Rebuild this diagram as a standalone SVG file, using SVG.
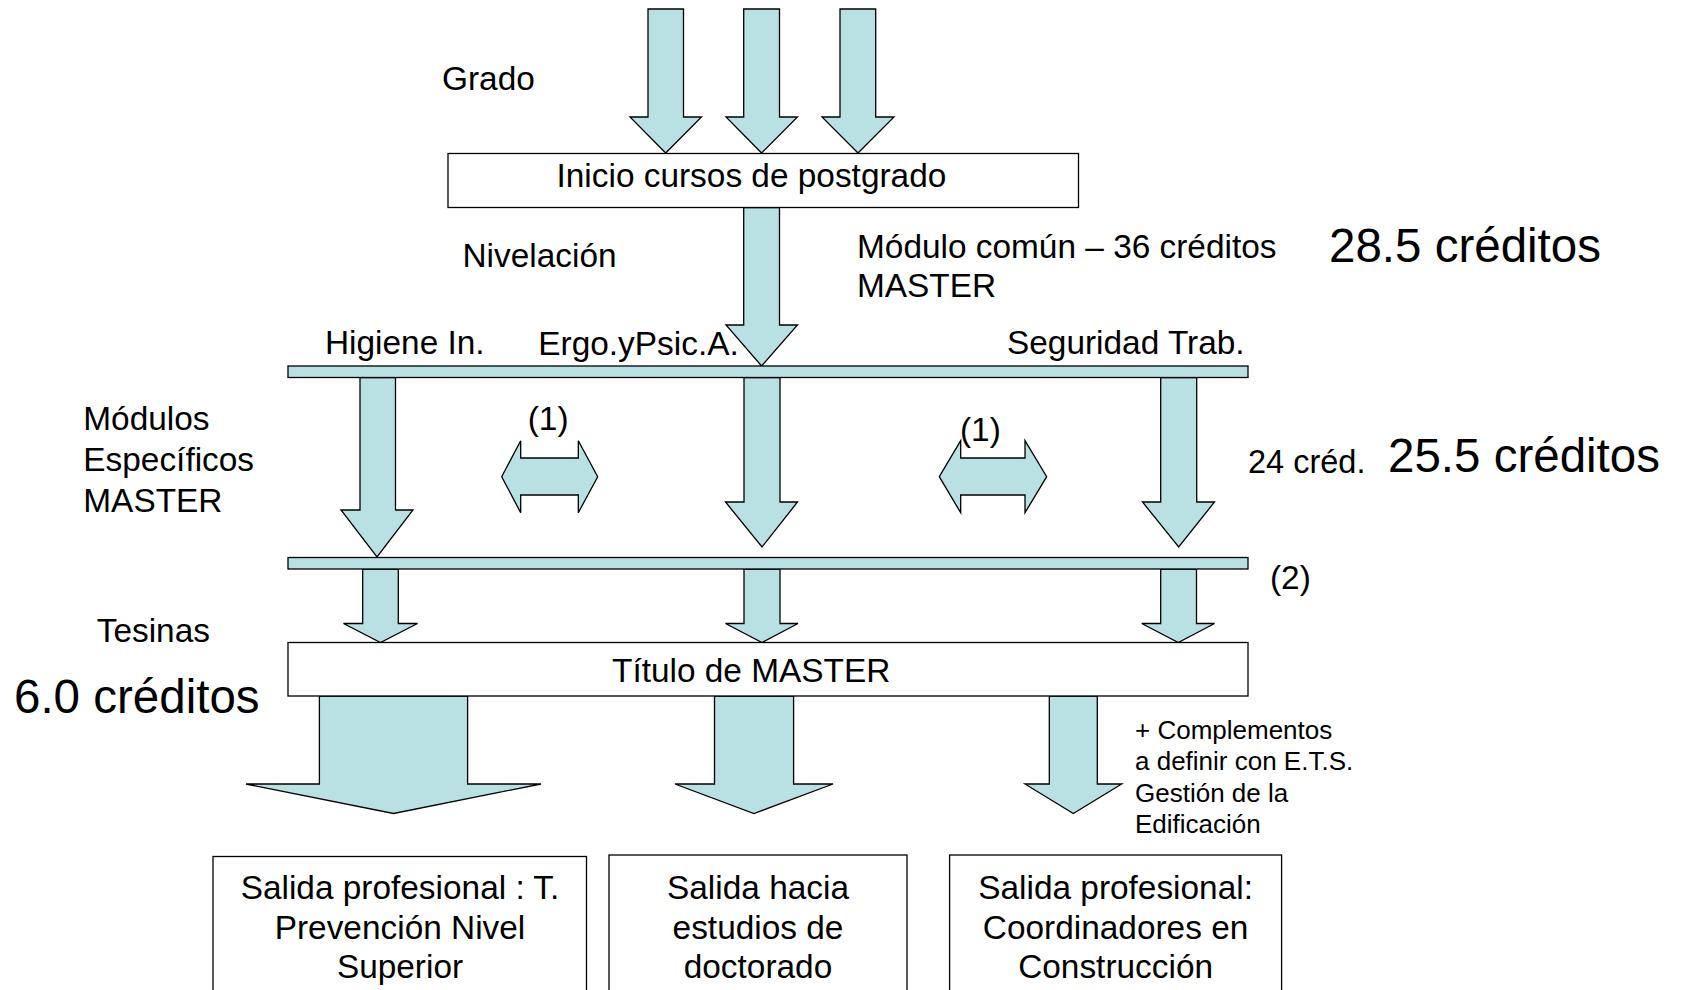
<svg xmlns="http://www.w3.org/2000/svg" width="1681" height="990" viewBox="0 0 1681 990">
<style>
.bg{fill:#ffffff}
.arw{fill:#B9E0E2;stroke:#000;stroke-width:1.3;stroke-linejoin:miter}
.box{fill:#ffffff;stroke:#000;stroke-width:1.3}
.bar{fill:#B9E0E2;stroke:#000;stroke-width:1.3}
text{font-family:"Liberation Sans",Arial,sans-serif;fill:#000}
.t{font-size:33.4px}
.big{font-size:47.5px}
.sm{font-size:26px}
.c{text-anchor:middle}
</style>
<rect class="bg" x="0" y="0" width="1681" height="990"/>

<g id="connectors">
  <!-- top entry arrows -->
  <polygon class="arw" points="648,9 683.5,9 683.5,117 701.5,117 665.7,153 630,117 648,117"/>
  <polygon class="arw" points="743.7,9 779.5,9 779.5,117 797.5,117 761.6,153 726,117 743.7,117"/>
  <polygon class="arw" points="840,9 875.7,9 875.7,117 894,117 858,153 822,117 840,117"/>
  <!-- nivelacion / modulo comun arrow -->
  <polygon class="arw" points="743.7,207.5 779.5,207.5 779.5,325 797.5,325 761.6,366 726,325 743.7,325"/>
  <!-- specific module arrows -->
  <polygon class="arw" points="360,377.5 395.5,377.5 395.5,510 413,510 377,557 341,510 360,510"/>
  <polygon class="arw" points="744,377.5 780,377.5 780,502 797.5,502 762,547 725.5,502 744,502"/>
  <polygon class="arw" points="1160.7,377.5 1196.7,377.5 1196.7,502 1214.5,502 1178.7,547 1142.5,502 1160.7,502"/>
  <!-- tesinas arrows -->
  <polygon class="arw" points="362.7,569 398.3,569 398.3,623.5 417.5,623.5 380.5,642.5 343.5,623.5 362.7,623.5"/>
  <polygon class="arw" points="744,569 780,569 780,623.5 798,623.5 762,642.5 725.5,623.5 744,623.5"/>
  <polygon class="arw" points="1160.7,569 1196.5,569 1196.5,623.5 1214.5,623.5 1178.3,642.5 1141.8,623.5 1160.7,623.5"/>
  <!-- exit arrows -->
  <polygon class="arw" points="319.4,696 467.6,696 467.6,784 541,784 393.5,813.5 246,784 319.4,784"/>
  <polygon class="arw" points="714.5,696 793.6,696 793.6,784 833,784 754,813.5 675,784 714.5,784"/>
  <polygon class="arw" points="1049.3,696 1097.3,696 1097.3,784 1121.7,784 1073.3,813.5 1025,784 1049.3,784"/>
  <!-- exchange double arrows -->
  <polygon class="arw" points="501.7,476.7 520.7,440.7 520.7,458 578.3,458 578.3,440.7 597.7,476.7 578.3,512.7 578.3,495 520.7,495 520.7,512.7"/>
  <polygon class="arw" points="939.3,476.7 960.7,440.7 960.7,458 1025,458 1025,440.7 1046.7,476.7 1025,512.7 1025,495 960.7,495 960.7,512.7"/>
</g>

<g id="bar-top"><rect class="bar" x="288" y="366" width="960" height="11.5"/></g>
<g id="bar-bottom"><rect class="bar" x="288" y="557.5" width="960" height="11.5"/></g>

<g id="inicio">
  <rect class="box" x="448" y="153.5" width="630.5" height="54"/>
  <text class="t" x="556.5" y="186.5">Inicio cursos de postgrado</text>
</g>

<g id="titulo">
  <rect class="box" x="288" y="642.5" width="960" height="53.5"/>
  <text class="t" x="612" y="682">Título de MASTER</text>
</g>

<g id="salida1">
  <rect class="box" x="213" y="856.5" width="373.5" height="150"/>
  <text class="t c" x="400" y="899">Salida profesional : T.</text>
  <text class="t c" x="400" y="938.5">Prevención Nivel</text>
  <text class="t c" x="400" y="978">Superior</text>
</g>
<g id="salida2">
  <rect class="box" x="609" y="855" width="298" height="150"/>
  <text class="t c" x="758" y="899">Salida hacia</text>
  <text class="t c" x="758" y="938.5">estudios de</text>
  <text class="t c" x="758" y="978">doctorado</text>
</g>
<g id="salida3">
  <rect class="box" x="949.6" y="855" width="332" height="150"/>
  <text class="t c" x="1115.6" y="899">Salida profesional:</text>
  <text class="t c" x="1115.6" y="938.5">Coordinadores en</text>
  <text class="t c" x="1115.6" y="978">Construcción</text>
</g>

<g id="labels">
  <text class="t" x="442" y="90">Grado</text>
  <text class="t" x="462.5" y="267">Nivelación</text>
  <text class="t" x="857" y="258.3">Módulo común – 36 créditos</text>
  <text class="t" x="857" y="296.7">MASTER</text>
  <text class="big" x="1329" y="262">28.5 créditos</text>
  <text class="t" x="325" y="353.5">Higiene In.</text>
  <text class="t" x="538.3" y="355">Ergo.yPsic.A.</text>
  <text class="t" x="1007" y="353.5">Seguridad Trab.</text>
  <text class="t" x="83.3" y="430">Módulos</text>
  <text class="t" x="83.3" y="470.7">Específicos</text>
  <text class="t" x="83.3" y="511.7">MASTER</text>
  <text class="t" x="527.7" y="430">(1)</text>
  <text class="t" x="960" y="441">(1)</text>
  <text style="font-size:32.5px" x="1248" y="472.5">24 créd.</text>
  <text class="big" x="1388" y="471.7">25.5 créditos</text>
  <text class="t" x="1270" y="589">(2)</text>
  <text class="t" x="96.7" y="641.7">Tesinas</text>
  <text class="big" x="14" y="713.3">6.0 créditos</text>
  <text class="sm" x="1135" y="738.5">+ Complementos</text>
  <text class="sm" x="1135" y="770">a definir con E.T.S.</text>
  <text class="sm" x="1135" y="801.5">Gestión de la</text>
  <text class="sm" x="1135" y="833">Edificación</text>
</g>
</svg>
